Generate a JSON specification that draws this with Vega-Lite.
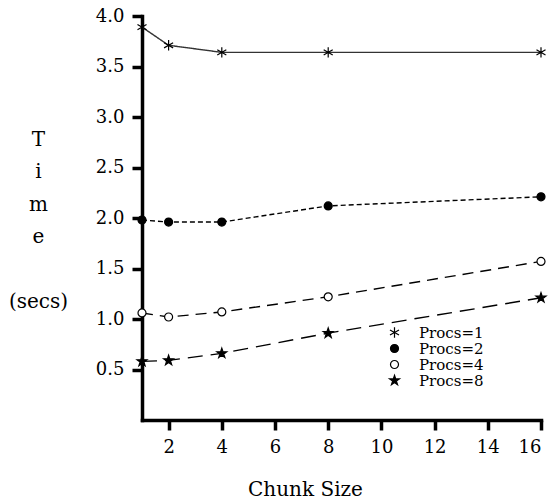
{
  "$schema": "https://vega.github.io/schema/vega-lite/v6.json",
  "autosize": {"type": "none"},
  "padding": {"left": 142, "top": 16, "right": 15, "bottom": 84},
  "width": 399,
  "height": 404,
  "background": "white",
  "config": {
    "view": {"stroke": null},
    "font": "DejaVu Serif",
    "axis": {
      "domainColor": "black", "domainWidth": 3.5, "domainCap": "square",
      "tickColor": "black", "tickWidth": 3.5, "tickSize": 10,
      "grid": false, "labelColor": "black", "labelFont": "DejaVu Serif",
      "labelFontSize": 18, "labelPadding": 8, "titleFont": "DejaVu Serif",
      "titleFontSize": 20, "titleFontWeight": "normal", "titleColor": "black"
    }
  },
  "data": {"values": [
    {"chunk": 1, "time": 3.89, "series": "Procs=1"},
    {"chunk": 2, "time": 3.71, "series": "Procs=1"},
    {"chunk": 4, "time": 3.64, "series": "Procs=1"},
    {"chunk": 8, "time": 3.64, "series": "Procs=1"},
    {"chunk": 16, "time": 3.64, "series": "Procs=1"},
    {"chunk": 1, "time": 1.98, "series": "Procs=2"},
    {"chunk": 2, "time": 1.96, "series": "Procs=2"},
    {"chunk": 4, "time": 1.96, "series": "Procs=2"},
    {"chunk": 8, "time": 2.12, "series": "Procs=2"},
    {"chunk": 16, "time": 2.21, "series": "Procs=2"},
    {"chunk": 1, "time": 1.06, "series": "Procs=4"},
    {"chunk": 2, "time": 1.02, "series": "Procs=4"},
    {"chunk": 4, "time": 1.07, "series": "Procs=4"},
    {"chunk": 8, "time": 1.22, "series": "Procs=4"},
    {"chunk": 16, "time": 1.57, "series": "Procs=4"},
    {"chunk": 1, "time": 0.58, "series": "Procs=8"},
    {"chunk": 2, "time": 0.59, "series": "Procs=8"},
    {"chunk": 4, "time": 0.66, "series": "Procs=8"},
    {"chunk": 8, "time": 0.86, "series": "Procs=8"},
    {"chunk": 16, "time": 1.21, "series": "Procs=8"}
  ]},
  "encoding": {
    "x": {
      "field": "chunk", "type": "quantitative",
      "scale": {"domain": [1, 16], "nice": false, "zero": false},
      "axis": {
        "values": [2, 4, 6, 8, 10, 12, 14, 16], "title": "Chunk Size",
        "titleX": 163, "titleY": 75, "titleAlign": "center", "titleBaseline": "alphabetic"
      }
    },
    "y": {
      "field": "time", "type": "quantitative",
      "scale": {"domain": [0, 4], "nice": false},
      "axis": {
        "values": [0.5, 1, 1.5, 2, 2.5, 3, 3.5, 4], "format": ".1f",
        "title": ["T", "i", "m", "e", "\u200b", "(secs)"],
        "titleAngle": 0, "titleAlign": "center", "titleBaseline": "top",
        "titleX": -104, "titleY": 113, "titleLineHeight": 32.5
      }
    }
  },
  "layer": [
    {
      "mark": {"type": "line", "interpolate": "linear", "strokeWidth": 1.4},
      "encoding": {
        "color": {
          "field": "series", "type": "nominal", "legend": null,
          "scale": {"range": ["#333333", "black", "black", "black"]}
        },
        "strokeDash": {
          "field": "series", "type": "nominal", "legend": null,
          "scale": {"range": [[1, 0], [5, 3], [11, 7], [15, 8]]}
        }
      }
    },
    {
      "mark": {"type": "point", "filled": true, "strokeWidth": 1.2, "size": 64, "opacity": 1},
      "encoding": {
        "shape": {
          "field": "series", "type": "nominal", "title": null,
          "scale": {"domain": ["Procs=1", "Procs=2", "Procs=4", "Procs=8"],
                    "range": [
                      "M0,-1.3L0,1.3M-1.13,-0.65L1.13,0.65M-1.13,0.65L1.13,-0.65",
                      "circle",
                      "circle",
                      "M0,-1.3L0.294,-0.405L1.236,-0.402L0.476,0.155L0.764,1.052L0,0.5L-0.764,1.052L-0.476,0.155L-1.236,-0.402L-0.294,-0.405Z"
                    ]},
          "legend": {
            "orient": "none", "legendX": 245, "legendY": 309,
            "padding": 0, "symbolSize": 64, "labelOffset": 17,
            "labelFont": "DejaVu Serif", "labelFontSize": 15, "labelColor": "black",
            "rowPadding": -2, "symbolStrokeWidth": 1.2
          }
        },
        "fill": {
          "field": "series", "type": "nominal", "title": null,
          "scale": {"domain": ["Procs=1", "Procs=2", "Procs=4", "Procs=8"],
                    "range": ["black", "black", "white", "black"]}
        },
        "stroke": {
          "field": "series", "type": "nominal", "title": null,
          "scale": {"domain": ["Procs=1", "Procs=2", "Procs=4", "Procs=8"],
                    "range": ["black", "black", "black", "black"]}
        }
      }
    }
  ]
}
